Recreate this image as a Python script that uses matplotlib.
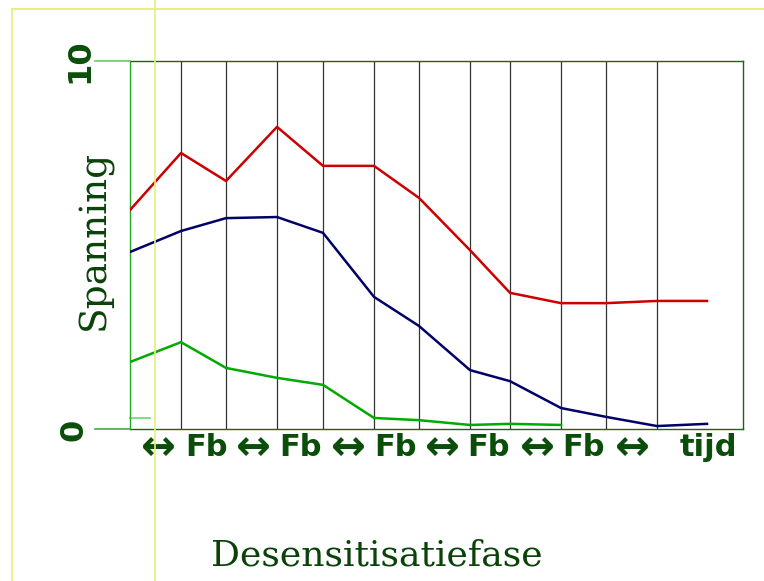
import matplotlib
matplotlib.use("Agg")
import matplotlib.pyplot as plt
from matplotlib.lines import Line2D

# data
time_pos = [0, 51, 96, 147, 193, 244, 289, 340, 380, 431, 476, 527, 577]
grid_pos = [51, 96, 147, 193, 244, 289, 340, 380, 431, 476, 527]
red = [5.95, 7.5, 6.74, 8.21, 7.15, 7.15, 6.28, 4.86, 3.7, 3.42, 3.42, 3.48, 3.48]
blue = [4.81, 5.38, 5.73, 5.76, 5.33, 3.59, 2.8, 1.6, 1.3, 0.57, 0.33, 0.08, 0.14]
green = [1.82, 2.36, 1.66, 1.39, 1.2, 0.3, 0.24, 0.11, 0.14, 0.11]
bottom_labels = ["↔", "Fb", "↔", "Fb", "↔", "Fb", "↔", "Fb", "↔", "Fb", "↔", "tijd"]
label_pos = [28, 77, 123, 170, 218, 265, 312, 358, 407, 453, 502, 578]
x_max = 613

DG = "#0b4d0b"
fig = plt.figure(figsize=(7.64, 5.81), dpi=100)
W, H = 764, 581
ax = fig.add_axes([130 / W, (H - 429) / H, (743 - 130) / W, (429 - 61) / H])
ax.set_xlim(0, x_max)
ax.set_ylim(0, 10)

for gx in grid_pos:
    ax.axvline(gx, color="#333333", lw=0.9, zorder=1)

ax.plot(time_pos, red, color="#cc0000", lw=1.8, zorder=3)
ax.plot(time_pos, blue, color="#000066", lw=1.8, zorder=3)
ax.plot(time_pos[:len(green)], green, color="#00aa00", lw=1.8, zorder=3)

for s in ["top", "right", "bottom"]:
    ax.spines[s].set_color("#1f5f1f")
    ax.spines[s].set_linewidth(1.0)
ax.spines["left"].set_color("#22aa22")
ax.spines["left"].set_linewidth(1.0)
ax.set_xticks([])
ax.set_yticks([])
ax.plot([0, 20], [0.3, 0.3], color="#66dd66", lw=1.2, clip_on=False)

# tick labels
fig.text(80 / W, 1 - 61 / H, "10", rotation=90, ha="center", va="center",
         fontsize=23, fontweight="bold", color=DG, family="DejaVu Sans")
fig.text(74 / W, 1 - 430 / H, "0", rotation=90, ha="center", va="center",
         fontsize=23, fontweight="bold", color=DG, family="DejaVu Sans")
fig.add_artist(Line2D([95 / W, 130 / W], [1 - 61 / H, 1 - 61 / H], color="#66cc66", lw=1.2))
fig.add_artist(Line2D([95 / W, 130 / W], [1 - 429 / H, 1 - 429 / H], color="#44aa44", lw=1.2))

# bottom labels
for lab, lx in zip(bottom_labels, label_pos):
    if lab == "↔":
        ax.text(lx, -0.52, lab, ha="center", va="center", fontsize=30, fontweight="bold",
                color=DG, family="DejaVu Sans", clip_on=False)
    else:
        ax.text(lx, -0.5, lab, ha="center", va="center", fontsize=22, fontweight="bold",
                color=DG, family="DejaVu Sans", clip_on=False)

fig.text(95 / W, 1 - 240 / H, "Spanning", rotation=90, ha="center", va="center",
         fontsize=27, color="#0a420a", family="DejaVu Serif")
fig.text(377 / W, 1 - 555 / H, "Desensitisatiefase", ha="center", va="center",
         fontsize=26, color="#0a420a", family="DejaVu Serif")

# yellow guide lines
YC = "#e6f07a"
fig.add_artist(Line2D([155 / W, 155 / W], [0, 1], color=YC, lw=1.2))
fig.add_artist(Line2D([12 / W, 1], [1 - 9 / H, 1 - 9 / H], color=YC, lw=1.5))
fig.add_artist(Line2D([12 / W, 12 / W], [0, 1 - 9 / H], color=YC, lw=1.2))

fig.savefig("out.png", dpi=100)
